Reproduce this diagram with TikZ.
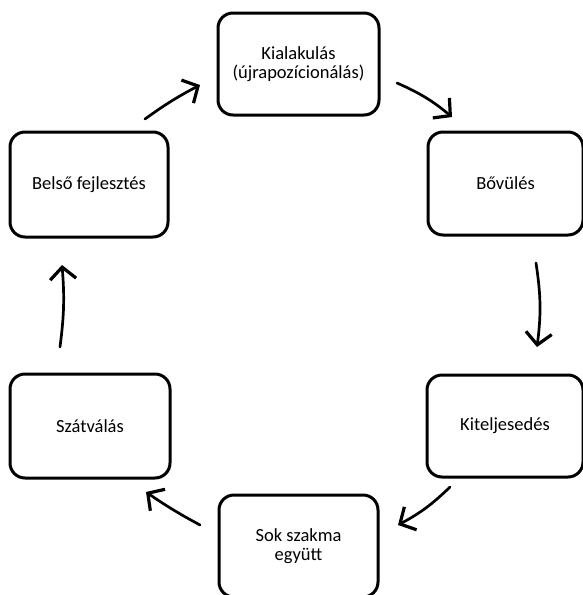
\documentclass[tikz,border=0pt]{standalone}
\usepackage{fontspec}
\setmainfont{Carlito}
\usetikzlibrary{arrows.meta}
\begin{document}
\begin{tikzpicture}[x=1pt,y=-1pt,
  phase/.style={draw=black, line width=3pt, rounded corners=15pt, fill=white,
    minimum width=#1, align=center, font=\fontsize{18.5}{19.5}\selectfont, inner sep=0pt},
  phase/.default=158pt,
  flow/.style={line width=2.7pt, line cap=round,
    -{Straight Barb[length=12pt,width=26pt,line width=3.2pt]}}]
\useasboundingbox (0,0) rectangle (582,595);
% phases of the cycle
\node[phase=161pt, minimum height=102pt] (kial) at (298.5,64) {Kialakulás\\(újrapozícionálás)};
\node[phase=155pt, minimum height=103pt] (bov)  at (505.5,183.5) {Bővülés};
\node[phase=156pt, minimum height=102pt] (kit)  at (505,426) {Kiteljesedés};
\node[phase=159pt, minimum height=102pt] (sok)  at (298.5,546) {Sok szakma\\együtt};
\node[phase=160pt, minimum height=104pt] (szat) at (90,426) {Szátválás};
\node[phase=158pt, minimum height=105pt] (bels) at (89,184.5) {Belső fejlesztés};
% free ends of the arrows between the phases
\coordinate (a1s) at (145,119); \coordinate (a1e) at (200,85);
\coordinate (a2s) at (397,83);  \coordinate (a2e) at (452,117);
\coordinate (a3s) at (536,263); \coordinate (a3e) at (537,347);
\coordinate (a4s) at (450,487); \coordinate (a4e) at (398,525);
\coordinate (a5s) at (200,525); \coordinate (a5e) at (146,492);
\coordinate (a6s) at (60,347);  \coordinate (a6e) at (62,265);
\draw[flow] (a1s) to[bend left=4] (a1e);
\draw[flow] (a2s) to[bend left=8] (a2e);
\draw[flow] (a3s) to[bend left=8] (a3e);
\draw[flow] (a4s) to[bend left=8] (a4e);
\draw[flow] (a5s) to[bend left=3] (a5e);
\draw[flow] (a6s) to[bend right=6] (a6e);
\end{tikzpicture}
\end{document}
